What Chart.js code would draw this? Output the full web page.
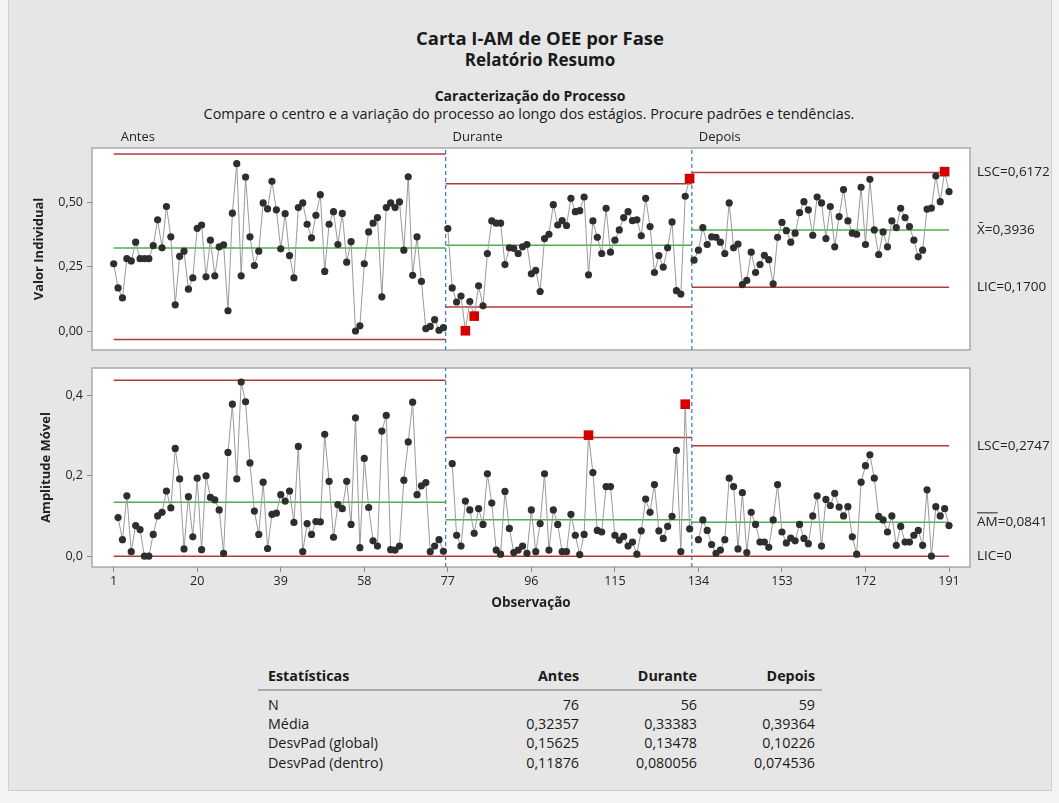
<!DOCTYPE html>
<html><head><meta charset="utf-8">
<script src="https://cdn.jsdelivr.net/npm/chart.js@4.4.1/dist/chart.umd.min.js"></script>
<style>
html,body{margin:0;padding:0;background:#f3f3f3;width:1059px;height:803px;overflow:hidden;font-family:'Open Sans',sans-serif;color:#1a1a1a}
#frame{position:absolute;left:8px;top:0;width:1042px;height:790px;background:#e6e6e6;border:1px solid #cfcfcf;border-top:none}
canvas{position:absolute;left:0;top:0}
.t{position:absolute;white-space:nowrap;line-height:16px}
.b{font-weight:700}
.r{text-align:right}
</style></head><body>
<div id="frame"></div>
<div class="t b" style="left:0;width:1080px;top:27px;text-align:center;font-size:18.5px;line-height:22px">Carta I-AM de OEE por Fase</div>
<div class="t b" style="left:0;width:1080px;top:49px;text-align:center;font-size:17px;line-height:22px">Relatório Resumo</div>
<div class="t b" style="left:0;width:1060px;top:87px;text-align:center;font-size:14px;line-height:18px">Caracterização do Processo</div>
<div class="t" style="left:0;width:1058px;top:105px;text-align:center;font-size:14.4px;line-height:18px">Compare o centro e a variação do processo ao longo dos estágios. Procure padrões e tendências.</div>
<div id="table"></div>
<canvas id="cI" width="1059" height="803"></canvas>
<canvas id="cMR" width="1059" height="803"></canvas>
<script>
// ---------- data ----------
const phaseNames = ['Antes', 'Durante', 'Depois'];
const phaseStart = [1, 77, 133];
const phaseBounds = [[1, 76.5], [76.5, 132.5], [132.5, 191]];
const obsTicks = [1, 20, 39, 58, 77, 96, 115, 134, 153, 172, 191];
const iTicks = [0, 0.25, 0.5];
const mrTicks = [0, 0.2, 0.4];

const indAntes = [0.262,0.168,0.129,0.282,0.273,0.346,0.282,0.282,0.282,0.333,
 0.433,0.324,0.485,0.367,0.102,0.291,0.311,0.163,0.207,0.400,
 0.413,0.211,0.354,0.215,0.328,0.336,0.079,0.459,0.652,0.215,
 0.600,0.367,0.255,0.311,0.499,0.476,0.583,0.472,0.320,0.457,
 0.294,0.207,0.481,0.499,0.416,0.363,0.451,0.531,0.232,0.416,
 0.465,0.337,0.458,0.268,0.348,0.000,0.020,0.262,0.386,0.420,
 0.442,0.133,0.481,0.499,0.481,0.503,0.315,0.601,0.217,0.367,
 0.193,0.009,0.018,0.044,0.003,0.013];
const indDurante = [0.399,0.168,0.113,0.136,0.001,0.115,0.058,0.176,0.098,0.302,
 0.429,0.420,0.420,0.259,0.324,0.322,0.302,0.328,0.337,0.223,
 0.236,0.154,0.360,0.377,0.492,0.413,0.430,0.411,0.517,0.465,
 0.469,0.522,0.219,0.429,0.365,0.302,0.478,0.307,0.354,0.394,
 0.442,0.465,0.430,0.433,0.371,0.517,0.407,0.228,0.294,0.249,
 0.324,0.425,0.157,0.144,0.525,0.594];
const indDepois = [0.276,0.315,0.403,0.337,0.367,0.365,0.346,0.302,0.499,0.324,
 0.339,0.181,0.197,0.307,0.228,0.259,0.295,0.278,0.184,0.365,
 0.423,0.391,0.346,0.381,0.461,0.504,0.472,0.373,0.522,0.499,
 0.360,0.485,0.328,0.446,0.551,0.429,0.381,0.377,0.560,0.337,
 0.591,0.394,0.298,0.386,0.328,0.429,0.403,0.478,0.442,0.407,
 0.354,0.289,0.315,0.475,0.479,0.604,0.504,0.621,0.543];

const mrAntes = [0.096,0.041,0.150,0.011,0.076,0.066,0.000,0.000,0.054,0.100,
 0.109,0.162,0.120,0.268,0.192,0.018,0.148,0.048,0.194,0.016,
 0.200,0.146,0.140,0.115,0.007,0.258,0.378,0.192,0.433,0.384,
 0.232,0.112,0.054,0.184,0.019,0.104,0.107,0.153,0.137,0.162,
 0.084,0.273,0.011,0.081,0.054,0.086,0.085,0.303,0.186,0.047,
 0.128,0.118,0.186,0.079,0.344,0.021,0.243,0.121,0.038,0.025,
 0.311,0.350,0.016,0.015,0.025,0.189,0.284,0.383,0.153,0.175,
 0.183,0.011,0.025,0.041,0.012];
const mrDurante = [0.230,0.052,0.025,0.137,0.115,0.057,0.118,0.079,0.205,0.132,
 0.015,0.005,0.161,0.069,0.009,0.015,0.025,0.007,0.115,0.011,
 0.081,0.205,0.015,0.115,0.079,0.011,0.011,0.104,0.052,0.004,
 0.054,0.301,0.208,0.064,0.060,0.173,0.173,0.052,0.040,0.049,
 0.025,0.035,0.005,0.063,0.142,0.109,0.178,0.063,0.044,0.074,
 0.099,0.263,0.011,0.378,0.068];
const mrDepois = [0.041,0.090,0.064,0.029,0.007,0.015,0.041,0.194,0.173,0.018,
 0.158,0.009,0.109,0.079,0.035,0.035,0.022,0.090,0.178,0.060,
 0.033,0.045,0.038,0.079,0.044,0.031,0.100,0.150,0.025,0.141,
 0.126,0.156,0.122,0.100,0.123,0.048,0.005,0.184,0.225,0.252,
 0.194,0.099,0.090,0.060,0.100,0.027,0.074,0.035,0.035,0.052,
 0.064,0.027,0.165,0.000,0.123,0.100,0.118,0.076];

const iCenter = [0.32357, 0.33383, 0.39364];
const iUCL = [0.6899, 0.5740, 0.6172];
const iLCL = [-0.0327, 0.0937, 0.1700];
const mrCenter = [0.1340, 0.0903, 0.0841];
const mrUCL = [0.4377, 0.2950, 0.2747];
const mrLCL = [0, 0, 0];
const iFlags = [81, 83, 132, 190];
const mrFlags = [109, 131];

const iRange = [-0.074, 0.713];
const mrRange = [-0.027, 0.468];
const xRange = [-3.93, 195.77];

const statHeader = ['Estatísticas', 'Antes', 'Durante', 'Depois'];
const statRows = [
  ['N', '76', '56', '59'],
  ['Média', '0,32357', '0,33383', '0,39364'],
  ['DesvPad (global)', '0,15625', '0,13478', '0,10226'],
  ['DesvPad (dentro)', '0,11876', '0,080056', '0,074536']
];

// ---------- table ----------
(function(){
  const tb = document.getElementById('table');
  const colRight = [null, 579, 697, 815];
  const rowY = [676, 705, 724, 743, 763];
  const rows = [statHeader].concat(statRows);
  let html = '<div style="position:absolute;left:258px;top:689px;width:564px;height:0;border-top:2px solid #ababab"></div>';
  rows.forEach((row, ri) => {
    row.forEach((txt, ci) => {
      const cls = 't' + (ri === 0 ? ' b' : '');
      const top = rowY[ri] - 9;
      const st = 'font-size:14.3px;line-height:18px';
      if (ci === 0) html += `<div class="${cls}" style="left:268px;top:${top}px;${st}">${txt}</div>`;
      else html += `<div class="${cls} r" style="left:${colRight[ci]-150}px;width:150px;top:${top}px;${st}">${txt}</div>`;
    });
  });
  tb.innerHTML = html;
})();

// ---------- chart helpers ----------
Chart.defaults.font.family = "'Open Sans', sans-serif";
Chart.defaults.font.size = 12;
Chart.defaults.color = '#222';

const DOT = '#2e2e2e', RED = '#d40000', LINK = '#9a9a9a';
const C_UCL = '#b23a3a', C_CEN = '#4fae4f', C_DIV = '#3f7fc8';

function series(start, vals){ return vals.map((v,k)=>({x:start+k, y:v})); }

function dataDatasets(list, flags){
  return list.map(({start, vals}) => ({
    data: series(start, vals),
    borderColor: LINK, borderWidth: 1, tension: 0,
    pointStyle: c => flags.includes(c.raw && c.raw.x) ? 'rect' : 'circle',
    pointRadius: c => flags.includes(c.raw && c.raw.x) ? 6.8 : 3.6,
    pointBackgroundColor: c => flags.includes(c.raw && c.raw.x) ? RED : DOT,
    pointBorderWidth: 0, pointHoverRadius: 0
  }));
}
function limitDatasets(center, ucl, lcl){
  const out = [];
  phaseBounds.forEach((b, i) => {
    [[ucl[i], C_UCL],[center[i], C_CEN],[lcl[i], C_UCL]].forEach(([v, col]) => {
      out.push({data:[{x:b[0],y:v},{x:b[1],y:v}], borderColor: col, borderWidth: 1.5, pointRadius: 0});
    });
  });
  return out;
}
function dividerDatasets(range){
  return [phaseBounds[1][0], phaseBounds[2][0]].map(x => ({
    data:[{x, y:range[0]},{x, y:range[1]}], borderColor: C_DIV, borderWidth: 1.3,
    borderDash:[4,3], pointRadius: 0, clip: false
  }));
}

const framePlugin = {
  id: 'frameBox',
  beforeDraw(chart){
    const {ctx, chartArea:a} = chart;
    ctx.save();
    ctx.fillStyle = '#ffffff';
    ctx.fillRect(a.left, a.top, a.width, a.height);
    ctx.strokeStyle = '#a9a9a9'; ctx.lineWidth = 1.5;
    ctx.strokeRect(a.left, a.top, a.width, a.height);
    ctx.restore();
  },
  afterDraw(chart, args, opts){
    const {ctx} = chart;
    const ys = chart.scales.y, xs = chart.scales.x;
    ctx.save();
    ctx.fillStyle = '#222';
    ctx.textBaseline = 'middle';
    ctx.font = "13.5px 'Open Sans', sans-serif";
    (opts.side || []).forEach(s => {
      const y = ys.getPixelForValue(s.value);
      ctx.fillText(s.text, 977, y);
      if (s.bar) {
        const w = ctx.measureText(s.bar).width;
        ctx.strokeStyle = '#222'; ctx.lineWidth = 1;
        ctx.beginPath(); ctx.moveTo(977, y - 9.5); ctx.lineTo(977 + w, y - 9.5); ctx.stroke();
      }
    });
    if (opts.phases) {
      ctx.font = "13px 'Open Sans', sans-serif";
      phaseNames.forEach((n, i) => {
        ctx.fillText(n, xs.getPixelForValue(phaseBounds[i][0]) + 7, 137);
      });
    }
    ctx.restore();
  }
};

function yAxis(range, ticks, title, titlePad, digits){
  return {
    type: 'linear', min: range[0], max: range[1],
    afterFit(s){ s.width = 92; },
    afterBuildTicks(s){ s.ticks = ticks.map(v => ({value: v})); },
    ticks: { padding: 4, color: '#222', font: {size: 12.5}, callback: v => v.toFixed(digits).replace('.', ',') },
    grid: { drawOnChartArea: false, drawTicks: true, tickLength: 5, color: '#8a8a8a' },
    border: { display: false },
    title: { display: true, text: title, font: {weight: 'bold', size: 13}, color: '#222', padding: {top: titlePad, bottom: 0} }
  };
}

// ---------- I chart ----------
new Chart(document.getElementById('cI'), {
  type: 'line',
  data: { datasets: [
    ...dataDatasets([{start:phaseStart[0], vals:indAntes},{start:phaseStart[1], vals:indDurante},{start:phaseStart[2], vals:indDepois}], iFlags),
    ...limitDatasets(iCenter, iUCL, iLCL),
    ...dividerDatasets(iRange)
  ]},
  options: {
    responsive: false, animation: false, events: [],
    layout: { padding: {left: 0, top: 148, right: 89, bottom: 453} },
    plugins: { legend: {display:false}, tooltip: {enabled:false},
      frameBox: { phases: true, side: [
        {text: 'LSC=0,6172', value: iUCL[2]},
        {text: 'X\u0304=0,3936', value: iCenter[2]},
        {text: 'LIC=0,1700', value: iLCL[2]} ] } },
    scales: {
      x: { type: 'linear', min: xRange[0], max: xRange[1], display: false },
      y: yAxis(iRange, iTicks, 'Valor Individual', 31, 2)
    }
  },
  plugins: [framePlugin]
});

// ---------- MR chart ----------
new Chart(document.getElementById('cMR'), {
  type: 'line',
  data: { datasets: [
    ...dataDatasets([{start:phaseStart[0]+1, vals:mrAntes},{start:phaseStart[1]+1, vals:mrDurante},{start:phaseStart[2]+1, vals:mrDepois}], mrFlags),
    ...limitDatasets(mrCenter, mrUCL, mrLCL),
    ...dividerDatasets(mrRange)
  ]},
  options: {
    responsive: false, animation: false, events: [],
    layout: { padding: {left: 0, top: 368, right: 89, bottom: 186} },
    plugins: { legend: {display:false}, tooltip: {enabled:false},
      frameBox: { side: [
        {text: 'LSC=0,2747', value: mrUCL[2]},
        {text: 'AM=0,0841', value: mrCenter[2], bar: 'AM'},
        {text: 'LIC=0', value: mrLCL[2]} ] } },
    scales: {
      x: { type: 'linear', min: xRange[0], max: xRange[1],
        afterFit(s){ s.height = 50; },
        afterBuildTicks(s){ s.ticks = obsTicks.map(v => ({value: v})); },
        ticks: { autoSkip: false, maxRotation: 0, padding: 2, color: '#222', font: {size: 12.5}, callback: v => String(v) },
        grid: { drawOnChartArea: false, drawTicks: true, tickLength: 5, color: '#8a8a8a' },
        border: { display: false },
        title: { display: true, text: 'Observação', font: {weight: 'bold', size: 13.5}, color: '#222', padding: {top: 0, bottom: 6} }
      },
      y: yAxis(mrRange, mrTicks, 'Amplitude Móvel', 38, 1)
    }
  },
  plugins: [framePlugin]
});
</script>
</body></html>
